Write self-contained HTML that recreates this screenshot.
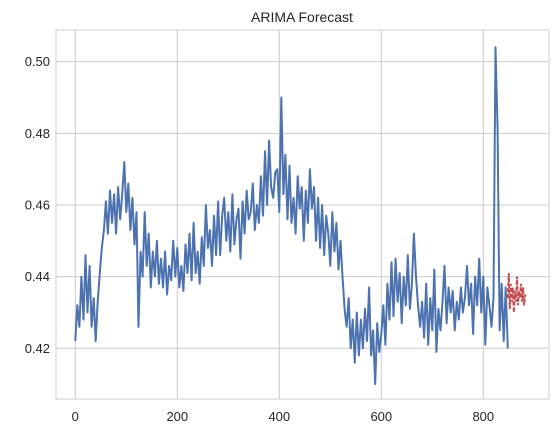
<!DOCTYPE html>
<html><head><meta charset="utf-8"><style>
body{margin:0;background:#fff;}
svg{display:block;font-family:"Liberation Sans",sans-serif;}
</style></head><body>
<svg id="chart" width="558" height="437">
<text x="302" y="22" text-anchor="middle" font-size="14" fill="#262626">ARIMA Forecast</text>
<g id="grid"></g>
<g id="series"></g>
<rect x="56" y="30" width="493" height="369" fill="none" stroke="#cccccc" stroke-width="1"/>
</svg>
<script>
const xTicks=[0,200,400,600,800];
const yTicks=[0.42,0.44,0.46,0.48,0.50];
const yTickLabels=["0.42","0.44","0.46","0.48","0.50"];
const observedStart=0, observedStep=4;
const observed=[.422,.432,.426,.44,.428,.446,.43,.443,.426,.434,.422,
.433,.441,.448,.453,.461,.452,.464,.455,.463,.452,
.465,.456,.463,.472,.458,.466,.453,.462,.449,.458,
.426,.447,.44,.458,.443,.452,.437,.447,.44,.45,
.438,.445,.437,.447,.435,.443,.439,.45,.44,.448,
.437,.443,.436,.449,.441,.452,.439,.455,.441,.447,
.438,.451,.443,.46,.448,.453,.443,.457,.446,.461,
.446,.457,.462,.45,.458,.447,.463,.449,.456,.459,
.445,.461,.452,.464,.456,.458,.466,.453,.46,.455,
.468,.457,.475,.46,.478,.465,.462,.469,.47,.458,
.49,.463,.474,.456,.471,.455,.462,.452,.468,.459,
.465,.45,.464,.455,.47,.459,.465,.45,.462,.448,
.46,.446,.457,.452,.443,.458,.447,.455,.442,.45,
.44,.431,.426,.434,.42,.428,.416,.43,.418,.428,
.42,.431,.422,.437,.418,.425,.41,.427,.419,.424,
.432,.421,.438,.428,.444,.429,.445,.433,.441,.427,
.44,.432,.446,.431,.438,.452,.44,.432,.426,.433,
.423,.438,.421,.434,.425,.442,.419,.431,.425,.433,
.443,.427,.437,.43,.436,.425,.433,.428,.437,.43,
.434,.443,.432,.438,.424,.44,.432,.445,.43,.44,
.421,.437,.432,.426,.434,.504,.481,.425,.438,.422,.437,.42];
const forecastStart=848, forecastStep=2;
const forecast=[.434,.441,.431,.438,.433,.437,.430,.436,.433,.44,.432,.436,.434,.438,.433,.437,.432,.435,.434];
const X=v=>75.3+v*0.51;
const Y=v=>348.3-(v-0.42)*3583;
const NS="http://www.w3.org/2000/svg";
const grid=document.getElementById('grid'), ser=document.getElementById('series'), svg=document.getElementById('chart');
function mk(t,a,p){const e=document.createElementNS(NS,t);for(const k in a)e.setAttribute(k,a[k]);p.appendChild(e);return e;}
xTicks.forEach(t=>{
 const l=mk('line',{x1:X(t),x2:X(t),y1:30,y2:399,stroke:'#cccccc','stroke-width':1},grid);
 
 
 const tx=mk('text',{x:X(t),y:421,'text-anchor':'middle','font-size':13,fill:'#262626'},svg);
 tx.textContent=t;
 
 
});
yTicks.forEach((t,i)=>{
 const l=mk('line',{x1:56,x2:549,y1:Y(t),y2:Y(t),stroke:'#cccccc','stroke-width':1},grid);
 
 
 const tx=mk('text',{x:50,y:Y(t)+4.5,'text-anchor':'end','font-size':13,fill:'#262626'},svg);
 tx.textContent=yTickLabels[i];
 
 
});
const op=observed.map((v,i)=>X(observedStart+i*observedStep).toFixed(1)+','+Y(v).toFixed(1)).join(' ');
const o=mk('polyline',{points:op,fill:'none',stroke:'#4c72b0','stroke-width':2,'stroke-linejoin':'round'},ser);


const fp=forecast.map((v,i)=>X(forecastStart+i*forecastStep).toFixed(1)+','+Y(v).toFixed(1)).join(' ');
const f=mk('polyline',{points:fp,fill:'none',stroke:'#c44e52','stroke-width':2,'stroke-dasharray':'4,2'},ser);


</script>
</body></html>
